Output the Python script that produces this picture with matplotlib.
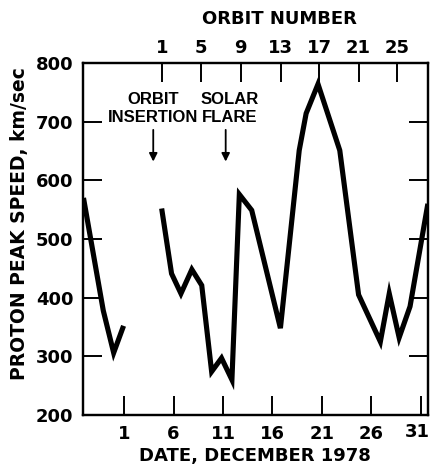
import numpy as np
import matplotlib
matplotlib.use("Agg")
import matplotlib.pyplot as plt
import matplotlib.transforms as mtransforms
from matplotlib import font_manager

# ---- data ----
days_seg1 = [-3.1, -1.1, -0.05, 0.95]
speed_seg1 = [570, 378, 306, 352]

days_seg2 = [4.8, 5.8, 6.75, 7.85, 8.85, 9.85, 10.85, 11.9, 12.65, 13.9,
             16.8, 18.7, 19.4, 20.6, 22.8, 24.7, 26.9, 27.8, 28.8, 29.9, 31.7]
speed_seg2 = [552, 441, 407, 448, 421, 274, 297, 260, 576, 549,
              348, 651, 714, 764, 651, 405, 325, 407, 332, 385, 560]

date_ticks = [1, 6, 11, 16, 21, 26, 31]
orbit_numbers = [1, 5, 9, 13, 17, 21, 25]
orbit_days = [4.85, 8.8, 12.8, 16.85, 20.7, 24.7, 28.6]
speed_ticks = [200, 300, 400, 500, 600, 700, 800]

events = ["ORBIT\nINSERTION", "SOLAR\nFLARE"]
event_days = [3.95, 11.27]

# ---- fonts ----
names = {f.name for f in font_manager.fontManager.ttflist}
main_font = "DejaVu Sans"
narrow_font = "Liberation Sans Narrow" if "Liberation Sans Narrow" in names else "Liberation Sans"
plt.rcParams['font.family'] = [main_font]
plt.rcParams['font.weight'] = 'bold'

fig = plt.figure(figsize=(4.3, 4.7), dpi=100)
ax = fig.add_axes([0.193, 0.117, 0.802, 0.749])

ax.plot(days_seg1, speed_seg1, color='black', lw=3.7, solid_joinstyle='miter',
        solid_capstyle='butt')
ax.plot(days_seg2, speed_seg2, color='black', lw=3.7, solid_joinstyle='miter',
        solid_capstyle='butt')

ax.set_xlim(-3.15, 31.7)
ax.set_ylim(200, 800)
ax.set_xticks(date_ticks)
ax.set_xticklabels([str(d) for d in date_ticks])
ax.set_yticks(speed_ticks)
ax.set_yticklabels([str(v) for v in speed_ticks])

for s in ax.spines.values():
    s.set_linewidth(1.6)

ax.tick_params(axis='both', direction='in', length=14, width=1.4,
               labelsize=13, pad=7)
ax.tick_params(axis='y', right=True, labelright=False)
ax.tick_params(axis='x', top=False)

for lab in ax.get_xticklabels() + ax.get_yticklabels():
    lab.set_fontweight('bold')

# keep the last date label inside the figure
last = ax.get_xticklabels()[-1]
last.set_horizontalalignment('right')
last.set_transform(last.get_transform() +
                   mtransforms.ScaledTranslation(9 / 100, 2 / 100, fig.dpi_scale_trans))

ax.set_xlabel("DATE, DECEMBER 1978", fontsize=13, fontweight='bold', labelpad=3)
ax.set_ylabel("PROTON PEAK SPEED, km/sec", fontsize=13.5, fontweight='bold')
ax.yaxis.set_label_coords(-0.158, 0.545)

ax2 = ax.twiny()
ax2.set_xlim(ax.get_xlim())
ax2.set_xticks(orbit_days)
ax2.set_xticklabels([str(o) for o in orbit_numbers])
ax2.tick_params(axis='x', direction='in', length=14, width=1.4, labelsize=13, pad=4)
for lab in ax2.get_xticklabels():
    lab.set_fontweight('bold')
ax2.set_xlabel("ORBIT NUMBER", fontsize=13, fontweight='bold')
ax2.xaxis.set_label_coords(0.571, 1.112)
for s in ax2.spines.values():
    s.set_linewidth(1.6)

for txt, d in zip(events, event_days):
    ax.text(d + (0 if 'ORBIT' in txt else 0.4), 722, txt, ha='center', va='center',
            fontsize=12, fontweight='bold', family=[narrow_font, 'DejaVu Sans'],
            linespacing=1.25)
    ax.annotate('', xy=(d, 632), xytext=(d, 686),
                arrowprops=dict(arrowstyle='-|>', color='black', lw=1.3,
                                mutation_scale=12, shrinkA=0, shrinkB=0))

fig.savefig("out.png", dpi=100)
